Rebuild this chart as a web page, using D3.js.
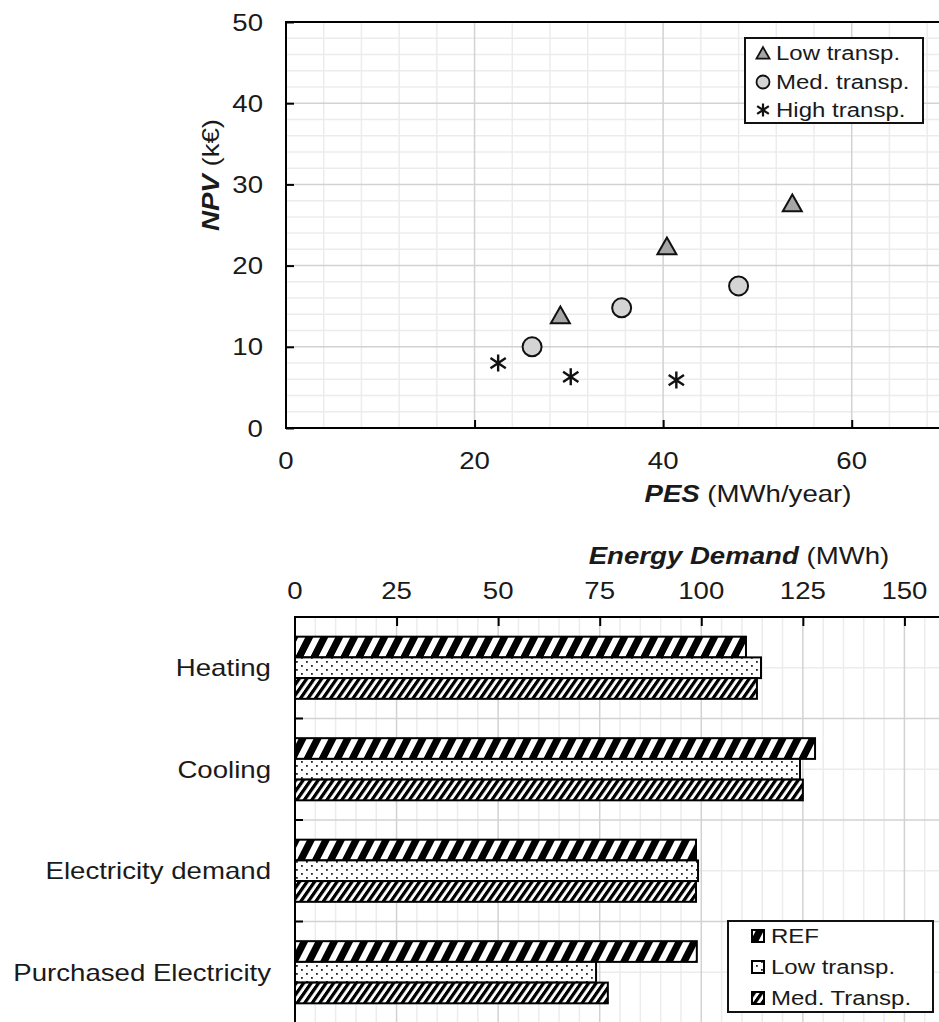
<!DOCTYPE html>
<html>
<head>
<meta charset="utf-8">
<script src="https://cdn.jsdelivr.net/npm/d3@7"></script>
<style>
  html, body { margin: 0; padding: 0; background: #fff; }
  svg { display: block; font-family: "Liberation Sans", Arial, sans-serif; }
</style>
</head>
<body>
<svg id="chart" width="939" height="1022"></svg>
<script>
// ---- Scatter: NPV vs PES for three transparency levels ----
const pesLow  = [29.1, 40.4, 53.7];
const npvLow  = [13.9, 22.4, 27.7];
const pesMed  = [26.1, 35.6, 48.0];
const npvMed  = [10.0, 14.8, 17.5];
const pesHigh = [22.5, 30.2, 41.4];
const npvHigh = [8.0, 6.3, 5.9];
const scatterSeries = ["Low transp.", "Med. transp.", "High transp."];
const pesTicks = [0, 20, 40, 60];
const npvTicks = [0, 10, 20, 30, 40, 50];

// ---- Bars: energy demand per use ----
const categories = ["Heating", "Cooling", "Electricity demand", "Purchased Electricity"];
const barSeries  = ["REF", "Low transp.", "Med. Transp."];
const refValues  = [111.0, 128.0, 98.7, 98.9];
const lowValues  = [114.7, 124.3, 99.2, 74.1];
const medValues  = [113.7, 125.0, 98.7, 77.0];
const demandTicks = [0, 25, 50, 75, 100, 125, 150];

const svg = d3.select("#chart");
const FONT = 24;
const STRETCH = 1.15;
const INK = "#1a1a1a";

// widen text horizontally so the glyph proportions follow the layout
function widen(sel, k = STRETCH) {
  sel.each(function () {
    const w = this.getComputedTextLength();
    this.setAttribute("textLength", w * k);
    this.setAttribute("lengthAdjust", "spacingAndGlyphs");
  });
  return sel;
}

// ---------- patterns ----------
const defs = svg.append("defs");
// wide upward diagonal
const pRef = defs.append("pattern").attr("id", "pRef")
  .attr("patternUnits", "userSpaceOnUse").attr("width", 15).attr("height", 40)
  .attr("patternTransform", "skewX(-27)");
pRef.append("rect").attr("width", 15).attr("height", 40).attr("fill", "#fff");
pRef.append("rect").attr("width", 8).attr("height", 40).attr("fill", "#000");
// sparse dots
const pLow = defs.append("pattern").attr("id", "pLow")
  .attr("patternUnits", "userSpaceOnUse").attr("width", 10).attr("height", 8);
pLow.append("rect").attr("width", 10).attr("height", 8).attr("fill", "#fff");
pLow.append("rect").attr("x", 1).attr("y", 1).attr("width", 1.8).attr("height", 1.8).attr("fill", "#222");
pLow.append("rect").attr("x", 6).attr("y", 5).attr("width", 1.8).attr("height", 1.8).attr("fill", "#222");
// dark upward diagonal (narrow)
const pMed = defs.append("pattern").attr("id", "pMed")
  .attr("patternUnits", "userSpaceOnUse").attr("width", 7.5).attr("height", 40)
  .attr("patternTransform", "skewX(-35)");
pMed.append("rect").attr("width", 7.5).attr("height", 40).attr("fill", "#fff");
pMed.append("rect").attr("width", 4).attr("height", 40).attr("fill", "#000");
const barFills = ["url(#pRef)", "url(#pLow)", "url(#pMed)"];

const MINOR = "#ececec", MAJOR = "#d2d2d2";

// =================== Scatter chart ===================
const x1 = d3.scaleLinear().domain([0, 70]).range([286, 946]);
const y1 = d3.scaleLinear().domain([0, 50]).range([428, 22]);
const gScatter = svg.append("g");

// grid
const gTop = gScatter.append("g");
gTop.selectAll(".vmin").data(d3.range(0, 71, 4).filter(v => v % 20 !== 0)).join("line")
  .attr("x1", d => x1(d)).attr("x2", d => x1(d)).attr("y1", y1(0)).attr("y2", y1(50))
  .attr("stroke", MINOR).attr("stroke-width", 1.5);
gTop.selectAll(".hmin").data(d3.range(0, 51, 2).filter(v => v % 10 !== 0)).join("line")
  .attr("y1", d => y1(d)).attr("y2", d => y1(d)).attr("x1", x1(0)).attr("x2", x1(70))
  .attr("stroke", MINOR).attr("stroke-width", 1.5);
gTop.selectAll(".vmaj").data([20, 40, 60]).join("line")
  .attr("x1", d => x1(d)).attr("x2", d => x1(d)).attr("y1", y1(0)).attr("y2", y1(50))
  .attr("stroke", MAJOR).attr("stroke-width", 1.5);
gTop.selectAll(".hmaj").data([10, 20, 30, 40]).join("line")
  .attr("y1", d => y1(d)).attr("y2", d => y1(d)).attr("x1", x1(0)).attr("x2", x1(70))
  .attr("stroke", MAJOR).attr("stroke-width", 1.5);

// frame + axes
gScatter.append("path")
  .attr("d", `M${x1(70)},${y1(50)}H${x1(0)}V${y1(0)}H${x1(70)}`)
  .attr("fill", "none").attr("stroke", "#000").attr("stroke-width", 2);

const yAx = gScatter.append("g").attr("transform", `translate(${x1(0)},0)`)
  .call(d3.axisRight(y1).tickValues(npvTicks).tickSize(8).tickFormat(""));
yAx.select(".domain").remove();
yAx.selectAll("line").attr("stroke", "#000").attr("stroke-width", 2);
const xAx = gScatter.append("g").attr("transform", `translate(0,${y1(0)})`)
  .call(d3.axisTop(x1).tickValues(pesTicks.filter(v => v > 0)).tickSize(8).tickFormat(""));
xAx.select(".domain").remove();
xAx.selectAll("line").attr("stroke", "#000").attr("stroke-width", 2);

// tick labels
widen(gScatter.append("g").selectAll("text").data(npvTicks).join("text")
  .attr("x", 263).attr("y", d => y1(d)).attr("dy", "0.36em")
  .attr("text-anchor", "end").attr("font-size", FONT).attr("fill", INK)
  .text(d => d));
widen(gScatter.append("g").selectAll("text").data(pesTicks).join("text")
  .attr("x", d => x1(d)).attr("y", 469)
  .attr("text-anchor", "middle").attr("font-size", FONT).attr("fill", INK)
  .text(d => d));

// axis titles
const xt = gScatter.append("text").attr("x", 748).attr("y", 502)
  .attr("text-anchor", "middle").attr("font-size", FONT).attr("fill", INK);
xt.append("tspan").attr("font-weight", "bold").attr("font-style", "italic").text("PES");
xt.append("tspan").text(" (MWh/year)");
widen(xt);
const yt = gScatter.append("text").attr("transform", "translate(219,175) rotate(-90)")
  .attr("text-anchor", "middle").attr("font-size", FONT).attr("fill", INK);
yt.append("tspan").attr("font-weight", "bold").attr("font-style", "italic").text("NPV");
yt.append("tspan").text(" (k€)");
widen(yt);

// markers
const triPath = s => `M0,${-s * 0.9}L${s},${s * 0.85}L${-s},${s * 0.85}Z`;
const starPath = s => `M0,${-s}V${s}M${-s * 0.9},${-s * 0.6}L${s * 0.9},${s * 0.6}M${-s * 0.9},${s * 0.6}L${s * 0.9},${-s * 0.6}`;

const marks = gScatter.append("g");
marks.selectAll(".tri").data(d3.zip(pesLow, npvLow)).join("path")
  .attr("transform", d => `translate(${x1(d[0])},${y1(d[1])})`)
  .attr("d", triPath(9.5)).attr("fill", "#a6a6a6").attr("stroke", "#111").attr("stroke-width", 2);
marks.selectAll(".cir").data(d3.zip(pesMed, npvMed)).join("circle")
  .attr("cx", d => x1(d[0])).attr("cy", d => y1(d[1])).attr("r", 9.5)
  .attr("fill", "#d4d4d4").attr("stroke", "#111").attr("stroke-width", 2);
marks.selectAll(".star").data(d3.zip(pesHigh, npvHigh)).join("path")
  .attr("transform", d => `translate(${x1(d[0])},${y1(d[1])})`)
  .attr("d", starPath(8.5)).attr("fill", "none").attr("stroke", "#111").attr("stroke-width", 2.4);

// legend
const lg1 = gScatter.append("g");
lg1.append("rect").attr("x", 745).attr("y", 38).attr("width", 178).attr("height", 85)
  .attr("fill", "#fff").attr("stroke", "#111").attr("stroke-width", 2);
const lgY = [53, 82, 110];
scatterSeries.forEach((name, i) => {
  const cy = lgY[i];
  if (i === 0) lg1.append("path").attr("transform", `translate(763,${cy})`).attr("d", triPath(6.5))
    .attr("fill", "#a6a6a6").attr("stroke", "#111").attr("stroke-width", 1.8);
  if (i === 1) lg1.append("circle").attr("cx", 763).attr("cy", cy).attr("r", 6.5)
    .attr("fill", "#d4d4d4").attr("stroke", "#111").attr("stroke-width", 1.8);
  if (i === 2) lg1.append("path").attr("transform", `translate(763,${cy})`).attr("d", starPath(6.5))
    .attr("fill", "none").attr("stroke", "#111").attr("stroke-width", 2.2);
  widen(lg1.append("text").attr("x", 776).attr("y", cy).attr("dy", "0.36em")
    .attr("font-size", 20).attr("fill", INK).text(name), 1.2);
});

// =================== Bar chart ===================
const x2 = d3.scaleLinear().domain([0, 175]).range([295, 1006]);
const y2 = d3.scaleBand().domain(categories).range([617, 1023]).padding(0);
const yIn = d3.scaleBand().domain(barSeries).range([0, y2.bandwidth()]).paddingInner(0).paddingOuter(0.95);
const gBars = svg.append("g");

const gBot = gBars.append("g");
gBot.selectAll(".vmin").data(d3.range(5, 176, 5).filter(v => v % 25 !== 0)).join("line")
  .attr("x1", d => x2(d)).attr("x2", d => x2(d)).attr("y1", 617).attr("y2", 1023)
  .attr("stroke", MINOR).attr("stroke-width", 1.5);
gBot.selectAll(".hmin").data(categories).join("line")
  .attr("y1", d => y2(d) + y2.bandwidth() / 2).attr("y2", d => y2(d) + y2.bandwidth() / 2)
  .attr("x1", x2(0)).attr("x2", x2(175)).attr("stroke", MINOR).attr("stroke-width", 1.5);
gBot.selectAll(".vmaj").data(demandTicks.filter(v => v > 0)).join("line")
  .attr("x1", d => x2(d)).attr("x2", d => x2(d)).attr("y1", 617).attr("y2", 1023)
  .attr("stroke", MAJOR).attr("stroke-width", 1.5);
gBot.selectAll(".hmaj").data(categories.slice(1)).join("line")
  .attr("y1", d => y2(d)).attr("y2", d => y2(d))
  .attr("x1", x2(0)).attr("x2", x2(175)).attr("stroke", MAJOR).attr("stroke-width", 1.5);

// bars
const seriesValues = [refValues, lowValues, medValues];
barSeries.forEach((s, si) => {
  gBars.append("g").selectAll("rect").data(categories.map((c, ci) => ({ c, v: seriesValues[si][ci] })))
    .join("rect")
    .attr("x", x2(0)).attr("y", d => y2(d.c) + yIn(s))
    .attr("width", d => x2(d.v) - x2(0)).attr("height", yIn.bandwidth())
    .attr("fill", barFills[si]).attr("stroke", "#000").attr("stroke-width", 2);
});

// frame + axes
gBars.append("path").attr("d", `M${x2(175)},617H${x2(0)}V1023`)
  .attr("fill", "none").attr("stroke", "#000").attr("stroke-width", 2);
const xAx2 = gBars.append("g").attr("transform", "translate(0,617)")
  .call(d3.axisBottom(x2).tickValues(demandTicks.filter(v => v > 0)).tickSize(9).tickFormat(""));
xAx2.select(".domain").remove();
xAx2.selectAll("line").attr("stroke", "#000").attr("stroke-width", 2);
gBars.append("g").selectAll("line").data(categories.slice(1)).join("line")
  .attr("x1", x2(0)).attr("x2", x2(0) + 8).attr("y1", d => y2(d)).attr("y2", d => y2(d))
  .attr("stroke", "#000").attr("stroke-width", 2);

widen(gBars.append("g").selectAll("text").data(demandTicks).join("text")
  .attr("x", d => x2(d)).attr("y", 599).attr("text-anchor", "middle")
  .attr("font-size", FONT).attr("fill", INK).text(d => d));
widen(gBars.append("g").selectAll("text").data(categories).join("text")
  .attr("x", 271).attr("y", d => y2(d) + y2.bandwidth() / 2).attr("dy", "0.36em")
  .attr("text-anchor", "end").attr("font-size", FONT).attr("fill", INK).text(d => d));

const bt = gBars.append("text").attr("x", 739).attr("y", 564)
  .attr("text-anchor", "middle").attr("font-size", FONT).attr("fill", INK);
bt.append("tspan").attr("font-weight", "bold").attr("font-style", "italic").text("Energy Demand");
bt.append("tspan").text(" (MWh)");
widen(bt);

// legend
const lg2 = gBars.append("g");
lg2.append("rect").attr("x", 728).attr("y", 921).attr("width", 205).attr("height", 91)
  .attr("fill", "#fff").attr("stroke", "#111").attr("stroke-width", 2);
const lg2Y = [936, 967, 998];
barSeries.forEach((name, i) => {
  lg2.append("rect").attr("x", 752).attr("y", lg2Y[i] - 6).attr("width", 12).attr("height", 12)
    .attr("fill", barFills[i]).attr("stroke", "#000").attr("stroke-width", 2);
  widen(lg2.append("text").attr("x", 771).attr("y", lg2Y[i]).attr("dy", "0.36em")
    .attr("font-size", 20).attr("fill", INK).text(name), 1.2);
});
</script>
</body>
</html>
